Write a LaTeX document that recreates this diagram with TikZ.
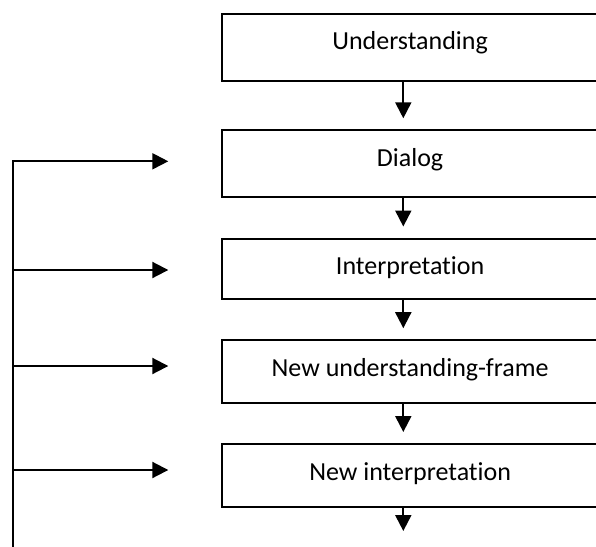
\documentclass[tikz,border=0pt]{standalone}
\usepackage{fontspec}
\setmainfont{Carlito}[Ligatures={NoCommon}]
\usetikzlibrary{arrows.meta}
\begin{document}
\begin{tikzpicture}[x=1pt,y=-1pt,
  box/.style={draw=black,line width=2pt,minimum width=376.8pt,inner sep=0pt,anchor=north west},
  lbl/.style={anchor=base,inner sep=0pt,font=\fontsize{26}{30}\selectfont},
  arr/.style={draw=black,line width=2pt,line join=miter,-{Triangle[length=16pt,width=16pt]}}]
\useasboundingbox (0,0) rectangle (596,546);
% boxes
\node[box,minimum height=67pt] (b1) at (220.7,12.5) {};
\node[box,minimum height=66.2pt] (b2) at (220.7,129.3) {};
\node[box,minimum height=60.1pt] (b3) at (220.7,237.5) {};
\node[box,minimum height=62.5pt] (b4) at (220.7,339.2) {};
\node[box,minimum height=62.5pt] (b5) at (220.7,443) {};
% labels
\node[lbl] (t1) at ([yshift=-37pt]b1.north) {Understanding};
\node[lbl] (t2) at ([yshift=-37pt]b2.north) {Dialog};
\node[lbl] (t3) at ([yshift=-37pt]b3.north) {Interpretation};
\node[lbl] (t4) at ([yshift=-37pt]b4.north) {New understanding-frame};
\node[lbl] (t5) at ([yshift=-37pt]b5.north) {New interpretation};
% vertical arrows
\coordinate (ax) at (403.3,0);
\coordinate (end5) at (403.3,531);
\draw[arr,shorten >=11pt] (b1.south -| ax) -- (b2.north -| ax);
\draw[arr,shorten >=11pt] (b2.south -| ax) -- (b3.north -| ax);
\draw[arr,shorten >=11pt] (b3.south -| ax) -- (b4.north -| ax);
\draw[arr,shorten >=11pt] (b4.south -| ax) -- (b5.north -| ax);
\draw[arr] (b5.south -| ax) -- (end5);
% feedback line
\coordinate (lbot) at (12.7,548);
\coordinate (h2) at (12.7,161.3);
\coordinate (h3) at (12.7,270);
\coordinate (h4) at (12.7,366);
\coordinate (h5) at (12.7,470);
\draw[arr,shorten >=52.4pt] (lbot) -- (h2) -- (h2 -| b2.west);
\draw[arr,shorten >=52.4pt] (h3) -- (h3 -| b3.west);
\draw[arr,shorten >=52.4pt] (h4) -- (h4 -| b4.west);
\draw[arr,shorten >=52.4pt] (h5) -- (h5 -| b5.west);
\end{tikzpicture}
\end{document}
